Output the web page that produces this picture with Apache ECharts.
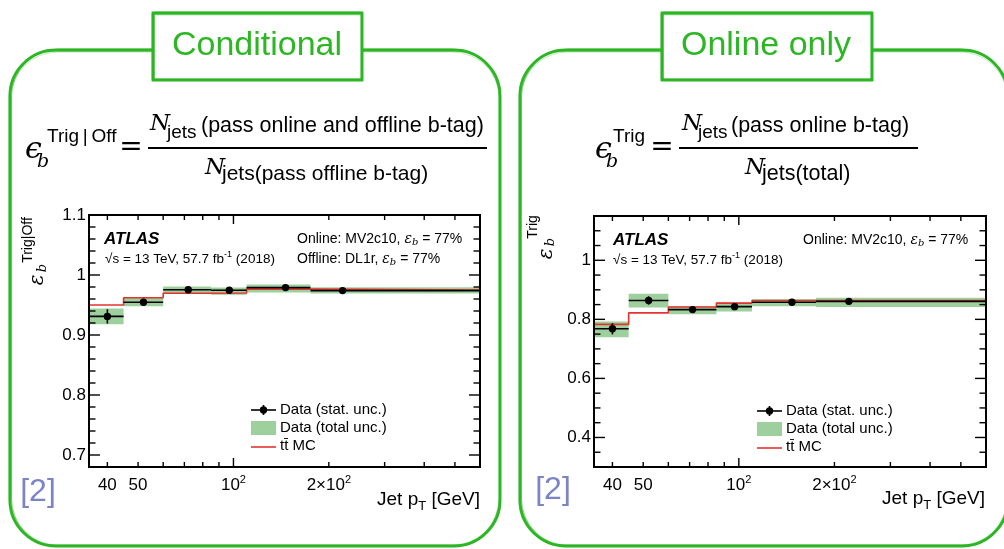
<!DOCTYPE html>
<html>
<head>
<meta charset="utf-8">
<script src="https://cdn.jsdelivr.net/npm/echarts@6/dist/echarts.min.js"></script>
<style>
  html, body { margin: 0; padding: 0; background: #fff; }
  #chart { width: 1004px; height: 549px; }
</style>
</head>
<body>
<div id="chart"></div>
<script>
// Jet pT bin edges [GeV], shared by both panels
const binEdges = [35, 45, 60, 85, 110, 175, 600];

// Conditional efficiency (online | offline b-tag)
const condPointPt = [40, 52, 72, 97, 146, 221];
const condEff = [0.931, 0.9545, 0.9755, 0.9745, 0.979, 0.974];
const condStat = [0.012, 0.006, 0.002, 0.002, 0.002, 0.002];
const condTotLo = [0.918, 0.948, 0.970, 0.967, 0.971, 0.969];
const condTotHi = [0.944, 0.962, 0.981, 0.979, 0.984, 0.9795];
const condMC = [0.950, 0.962, 0.9695, 0.970, 0.9765, 0.975];

// Online-only efficiency
const onlPointPt = [40, 52, 71.5, 97, 147, 222];
const onlEff = [0.768, 0.864, 0.833, 0.843, 0.858, 0.861];
const onlStat = [0.019, 0.014, 0.005, 0.006, 0.004, 0.004];
const onlTotLo = [0.739, 0.840, 0.817, 0.827, 0.844, 0.842];
const onlTotHi = [0.793, 0.887, 0.844, 0.857, 0.868, 0.873];
const onlMC = [0.783, 0.822, 0.842, 0.855, 0.864, 0.864];

// Axis ranges and tick labels
const xRange = [35, 600];
const xTicks = [40, 50, 60, 70, 80, 90, 100, 200, 300, 400, 500];
const xMajorTicks = [100];
const xLabelValues = [40, 50, 100, 200];
const xLabelTexts = ['40', '50', '10{s|2}', '2\u00d710{s|2}'];

const condYRange = [0.68, 1.1];
const condYMajor = [0.7, 0.8, 0.9, 1.0, 1.1];
const condYLabels = ['0.7', '0.8', '0.9', '1', '1.1'];
const condYMinorStep = 0.02;

const onlYRange = [0.3, 1.15];
const onlYMajor = [0.4, 0.6, 0.8, 1.0];
const onlYLabels = ['0.4', '0.6', '0.8', '1'];
const onlYMinorStep = 0.05;

const SANS = '"Liberation Sans", Arial, Helvetica, sans-serif';
const SERIF = '"DejaVu Serif", "Liberation Serif", serif';
const GREEN = '#2db624';
const BAND = 'rgba(120, 190, 120, 0.72)';
const RED = '#e3342f';
const REF = '#7b85c6';

function minorTicks(range, step, majors) {
  const out = [];
  const k0 = Math.ceil(range[0] / step - 1e-6), k1 = Math.floor(range[1] / step + 1e-6);
  for (let k = k0; k <= k1; k++) {
    const v = +(k * step).toFixed(4);
    if (!majors.some(m => Math.abs(m - v) < 1e-6)) out.push(v);
  }
  return out;
}

function bandSeries(g, lo, hi) {
  return {
    type: 'custom', xAxisIndex: g, yAxisIndex: g, z: 2, silent: true,
    data: lo.map((l, i) => [binEdges[i], l, binEdges[i + 1], hi[i]]),
    renderItem(params, api) {
      const a = api.coord([api.value(0), api.value(3)]);
      const b = api.coord([api.value(2), api.value(1)]);
      return { type: 'rect', shape: { x: a[0], y: a[1], width: b[0] - a[0], height: b[1] - a[1] },
               style: { fill: BAND } };
    }
  };
}

function mcSeries(g, mc, yMin) {
  const data = [[binEdges[0], yMin]];
  mc.forEach((v, i) => data.push([binEdges[i], v]));
  data.push([binEdges[binEdges.length - 1], mc[mc.length - 1]]);
  return {
    type: 'line', xAxisIndex: g, yAxisIndex: g, z: 3, step: 'end', symbol: 'none', silent: true,
    lineStyle: { color: RED, width: 1.6 }, data
  };
}

function pointSeries(g, pt, eff, stat) {
  return {
    type: 'custom', xAxisIndex: g, yAxisIndex: g, z: 4, silent: true,
    data: pt.map((x, i) => [x, eff[i], stat[i], binEdges[i], binEdges[i + 1]]),
    renderItem(params, api) {
      const x = api.value(0), y = api.value(1), e = api.value(2);
      const l = api.coord([api.value(3), y]), r = api.coord([api.value(4), y]);
      const t = api.coord([x, y + e]), b = api.coord([x, y - e]), c = api.coord([x, y]);
      const st = { stroke: '#000', lineWidth: 1.6 };
      return { type: 'group', children: [
        { type: 'line', shape: { x1: l[0], y1: l[1], x2: r[0], y2: r[1] }, style: st },
        { type: 'line', shape: { x1: t[0], y1: t[1], x2: b[0], y2: b[1] }, style: st },
        { type: 'circle', shape: { cx: c[0], cy: c[1], r: 3.7 }, style: { fill: '#000' } }
      ]};
    }
  };
}

function xTickSeries(g, yRange) {
  return {
    type: 'custom', xAxisIndex: g, yAxisIndex: g, z: 6, silent: true,
    data: xTicks.map(v => [v, yRange[0]]),
    renderItem(params, api) {
      const v = api.value(0);
      const len = xMajorTicks.includes(v) ? 9 : 5;
      const b = api.coord([v, yRange[0]]), t = api.coord([v, yRange[1]]);
      const st = { stroke: '#000', lineWidth: 1.4 };
      return { type: 'group', children: [
        { type: 'line', shape: { x1: b[0], y1: b[1], x2: b[0], y2: b[1] - len }, style: st },
        { type: 'line', shape: { x1: t[0], y1: t[1], x2: t[0], y2: t[1] + len }, style: st }
      ]};
    }
  };
}

function yTickSeries(g, majors, step) {
  const yr = g === 0 ? condYRange : onlYRange;
  const ticks = majors.map(v => [xRange[0], v, 1]).concat(minorTicks(yr, step, majors).map(v => [xRange[0], v, 0]));
  return {
    type: 'custom', xAxisIndex: g, yAxisIndex: g, z: 6, silent: true,
    data: ticks,
    renderItem(params, api) {
      const v = api.value(1);
      const len = api.value(2) ? 11 : 6.5;
      const l = api.coord([xRange[0], v]), r = api.coord([xRange[1], v]);
      const st = { stroke: '#000', lineWidth: 1.4 };
      return { type: 'group', children: [
        { type: 'line', shape: { x1: l[0], y1: l[1], x2: l[0] + len, y2: l[1] }, style: st },
        { type: 'line', shape: { x1: r[0], y1: r[1], x2: r[0] - len, y2: r[1] }, style: st }
      ]};
    }
  };
}

function xLabelSeries(g, yMin) {
  return {
    type: 'custom', xAxisIndex: g, yAxisIndex: g, z: 6, silent: true,
    data: xLabelValues.map((v, i) => [v, yMin, i]),
    renderItem(params, api) {
      const p = api.coord([api.value(0), yMin]);
      return { type: 'text', x: p[0], y: p[1] + 18, style: {
        text: xLabelTexts[api.value(2)], fill: '#000', font: '17px ' + SANS,
        align: 'center', verticalAlign: 'middle',
        rich: { s: { font: '11px ' + SANS, padding: [0, 0, 10, 0] } }
      }};
    }
  };
}

function yLabelSeries(g, majors, labels) {
  return {
    type: 'custom', xAxisIndex: g, yAxisIndex: g, z: 6, silent: true,
    data: majors.map((v, i) => [xRange[0], v, i]),
    renderItem(params, api) {
      const p = api.coord([xRange[0], api.value(1)]);
      return { type: 'text', x: p[0] - 3, y: p[1], style: {
        text: labels[api.value(2)], fill: '#000', font: '17px ' + SANS,
        align: 'right', verticalAlign: 'middle'
      }};
    }
  };
}

// ---- decorative and annotation elements ----
function txt(x, y, text, font, opt) {
  opt = opt || {};
  return { type: 'text', x, y, rotation: opt.rot || 0, z: 20, silent: true,
    style: Object.assign({ text, font, fill: opt.fill || '#000', align: opt.align || 'left',
      verticalAlign: opt.va || 'middle' }, opt.rich ? { rich: opt.rich } : {}) };
}
function hline(x1, x2, y, color, w, z) {
  return { type: 'line', z: z || 20, silent: true, shape: { x1, y1: y, x2, y2: y }, style: { stroke: color, lineWidth: w } };
}
function sketchRect(x, y, w, h, r, fill, z) {
  const base = { type: 'rect', z, silent: true };
  return [
    Object.assign({}, base, { shape: { x, y, width: w, height: h, r }, style: { fill: fill || 'none', stroke: GREEN, lineWidth: 2.8 } }),
    Object.assign({}, base, { z: z + 1, shape: { x: x + 1.5, y: y - 1, width: w - 2.5, height: h + 1.5, r: r ? r + 2 : 0 }, style: { fill: 'none', stroke: GREEN, lineWidth: 1, opacity: 0.55 } }),
    Object.assign({}, base, { z: z + 1, shape: { x: x - 1.2, y: y + 1.2, width: w + 2, height: h - 2, r: r ? r - 2 : 0 }, style: { fill: 'none', stroke: GREEN, lineWidth: 0.9, opacity: 0.5 } }),
    Object.assign({}, base, { z: z + 1, shape: { x: x + 0.6, y: y + 2, width: w - 1, height: h - 3, r: r ? r + 1 : 0 }, style: { fill: 'none', stroke: GREEN, lineWidth: 0.7, opacity: 0.45 } })
  ];
}

const annRich = {
  e: { font: 'italic 14px ' + SERIF, fill: '#000' },
  b: { font: 'italic 10px ' + SERIF, fill: '#000', padding: [7, 0, 0, 0] },
  sup: { font: '9px ' + SANS, fill: '#000', padding: [0, 0, 8, 0] }
};

function legend(x, yTop) {
  const t = (y, s) => txt(x + 29, y, s, '15px ' + SANS);
  return [
    hline(x, x + 25, yTop, '#000', 1.6),
    { type: 'line', z: 20, silent: true, shape: { x1: x + 12.5, y1: yTop - 5, x2: x + 12.5, y2: yTop + 5 }, style: { stroke: '#000', lineWidth: 1.6 } },
    { type: 'circle', z: 21, silent: true, shape: { cx: x + 12.5, cy: yTop, r: 3.7 }, style: { fill: '#000' } },
    t(yTop, 'Data (stat. unc.)'),
    { type: 'rect', z: 20, silent: true, shape: { x, y: yTop + 11, width: 25, height: 14 }, style: { fill: BAND } },
    t(yTop + 18, 'Data (total unc.)'),
    hline(x, x + 25, yTop + 37, RED, 1.6),
    t(yTop + 36, 'tt\u0304 MC')
  ];
}

const FORM = '21.5px ' + SANS;

const graphics = [].concat(
  // panel frames and title boxes
  sketchRect(10, 50, 490, 496, 46, null, 1),
  sketchRect(520, 50, 488, 496, 46, null, 1),
  sketchRect(153, 13, 209, 67, 0, '#fff', 5),
  sketchRect(662, 13, 210, 67, 0, '#fff', 5),
  [
    txt(257, 46, 'Conditional', '34px ' + SANS, { fill: GREEN, align: 'center' }),
    txt(766, 46, 'Online only', '34px ' + SANS, { fill: GREEN, align: 'center' }),

    // conditional efficiency definition
    txt(25, 150, '\u03f5', 'italic 30px ' + SERIF),
    txt(37, 162, 'b', 'italic 19px ' + SERIF),
    txt(47, 137, 'Trig\u2009|\u2009Off', '19px ' + SANS),
    txt(131, 148, '=', '28px ' + SERIF, { align: 'center' }),
    hline(148, 487, 148, '#000', 1.8),
    txt(150, 124, 'N', 'italic 23px ' + SERIF),
    txt(167, 133, 'jets', '19px ' + SANS),
    txt(201, 126, '(pass online and offline b-tag)', FORM),
    txt(205, 168, 'N', 'italic 23px ' + SERIF),
    txt(222, 174, 'jets(pass offline b-tag)', '21px ' + SANS),

    // online-only efficiency definition
    txt(595, 150, '\u03f5', 'italic 30px ' + SERIF),
    txt(606, 162, 'b', 'italic 19px ' + SERIF),
    txt(613, 137, 'Trig', '19px ' + SANS),
    txt(662, 148, '=', '28px ' + SERIF, { align: 'center' }),
    hline(679, 918, 148, '#000', 1.8),
    txt(682, 124, 'N', 'italic 23px ' + SERIF),
    txt(698, 133, 'jets', '19px ' + SANS),
    txt(731, 126, '(pass online b-tag)', FORM),
    txt(745, 168, 'N', 'italic 23px ' + SERIF),
    txt(762, 174, 'jets(total)', FORM),

    // y-axis titles
    txt(38, 280, '\u03b5', 'italic 20px ' + SERIF, { align: 'center', rot: Math.PI / 2 }),
    txt(43, 268, 'b', 'italic 13px ' + SERIF, { align: 'center', rot: Math.PI / 2 }),
    txt(28, 240, 'Trig|Off', '14px ' + SANS, { align: 'center', rot: Math.PI / 2 }),
    txt(547, 254, '\u03b5', 'italic 20px ' + SERIF, { align: 'center', rot: Math.PI / 2 }),
    txt(551, 242, 'b', 'italic 13px ' + SERIF, { align: 'center', rot: Math.PI / 2 }),
    txt(533, 227, 'Trig', '14px ' + SANS, { align: 'center', rot: Math.PI / 2 }),

    // x-axis titles
    txt(480, 500, 'Jet p{t|T} [GeV]', '19px ' + SANS, { align: 'right', rich: { t: { font: '13px ' + SANS, padding: [12, 0, 0, 0] } } }),
    txt(985, 499, 'Jet p{t|T} [GeV]', '19px ' + SANS, { align: 'right', rich: { t: { font: '13px ' + SANS, padding: [12, 0, 0, 0] } } }),

    // plot annotations
    txt(104, 239, 'ATLAS', 'italic bold 17px ' + SANS),
    txt(105, 259, '\u221as = 13 TeV, 57.7 fb{sup|-1} (2018)', '13.5px ' + SANS, { rich: annRich }),
    txt(297, 239, 'Online: MV2c10, {e|\u03b5}{b|b} = 77%', '14px ' + SANS, { rich: annRich }),
    txt(297, 259, 'Offline: DL1r, {e|\u03b5}{b|b} = 77%', '14px ' + SANS, { rich: annRich }),
    txt(613, 240, 'ATLAS', 'italic bold 17px ' + SANS),
    txt(613, 260, '\u221as = 13 TeV, 57.7 fb{sup|-1} (2018)', '13.5px ' + SANS, { rich: annRich }),
    txt(803, 240, 'Online: MV2c10, {e|\u03b5}{b|b} = 77%', '14px ' + SANS, { rich: annRich }),

    // reference markers
    txt(38, 492, '[2]', '32px ' + SANS, { fill: REF, align: 'center' }),
    txt(553, 490, '[2]', '32px ' + SANS, { fill: REF, align: 'center' })
  ],
  legend(251, 410),
  legend(757, 411)
);

const chart = echarts.init(document.getElementById('chart'), null, { renderer: 'canvas' });
const hiddenAxis = { axisLine: { show: false }, axisTick: { show: false }, axisLabel: { show: false }, splitLine: { show: false } };
chart.setOption({
  animation: false,
  backgroundColor: '#fff',
  grid: [
    { left: 89, top: 215, width: 391, height: 252, show: true, borderColor: '#000', borderWidth: 2, z: 7 },
    { left: 594, top: 216, width: 392, height: 251, show: true, borderColor: '#000', borderWidth: 2, z: 7 }
  ],
  xAxis: [
    Object.assign({ gridIndex: 0, type: 'log', logBase: 10, min: xRange[0], max: xRange[1] }, hiddenAxis),
    Object.assign({ gridIndex: 1, type: 'log', logBase: 10, min: xRange[0], max: xRange[1] }, hiddenAxis)
  ],
  yAxis: [
    Object.assign({ gridIndex: 0, type: 'value', min: condYRange[0], max: condYRange[1] }, hiddenAxis),
    Object.assign({ gridIndex: 1, type: 'value', min: onlYRange[0], max: onlYRange[1] }, hiddenAxis)
  ],
  graphic: graphics,
  series: [
    bandSeries(0, condTotLo, condTotHi),
    mcSeries(0, condMC, condYRange[0]),
    pointSeries(0, condPointPt, condEff, condStat),
    xTickSeries(0, condYRange),
    yTickSeries(0, condYMajor, condYMinorStep),
    xLabelSeries(0, condYRange[0]),
    yLabelSeries(0, condYMajor, condYLabels),

    bandSeries(1, onlTotLo, onlTotHi),
    mcSeries(1, onlMC, onlYRange[0]),
    pointSeries(1, onlPointPt, onlEff, onlStat),
    xTickSeries(1, onlYRange),
    yTickSeries(1, onlYMajor, onlYMinorStep),
    xLabelSeries(1, onlYRange[0]),
    yLabelSeries(1, onlYMajor, onlYLabels)
  ]
});
</script>
</body>
</html>
